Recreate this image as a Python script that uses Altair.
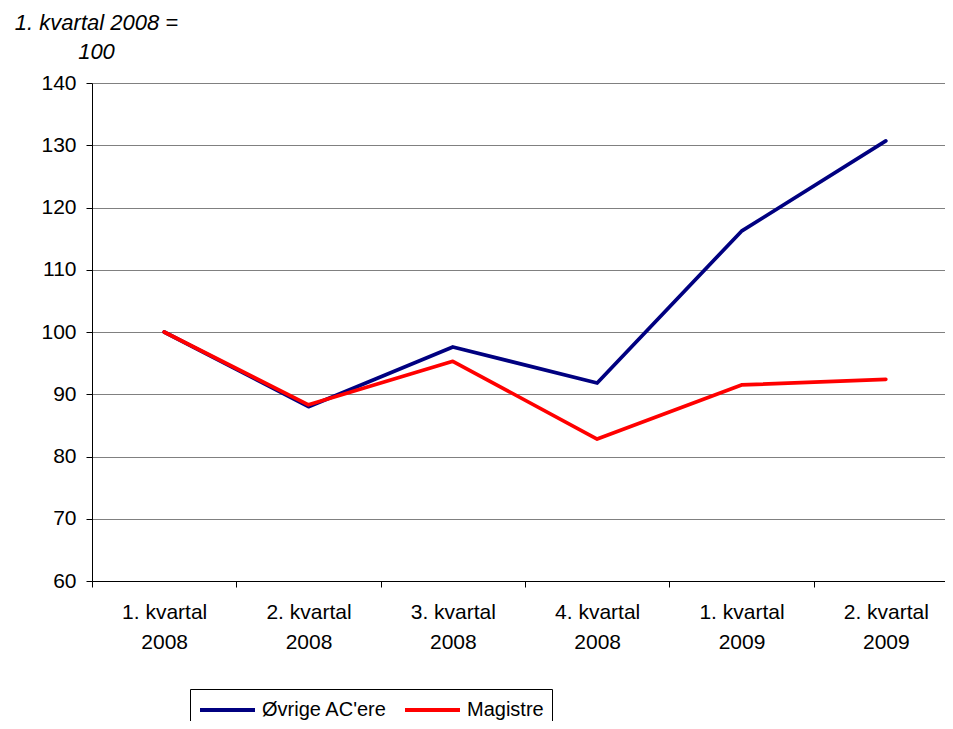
import altair as alt
import pandas as pd

categories = ["1. kvartal 2008", "2. kvartal 2008", "3. kvartal 2008",
              "4. kvartal 2008", "1. kvartal 2009", "2. kvartal 2009"]
series_names = ["Øvrige AC'ere", "Magistre"]
ovrige = [100.0, 88.0, 97.6, 91.8, 116.2, 130.7]
magistre = [100.0, 88.3, 95.3, 82.8, 91.5, 92.4]
y_ticks = [60, 70, 80, 90, 100, 110, 120, 130, 140]
y_title = ["1. kvartal 2008 =", "100"]

rows = []
for name, vals in zip(series_names, [ovrige, magistre]):
    for i, (c, v) in enumerate(zip(categories, vals)):
        rows.append({"kvartal": c, "serie": name, "indeks": v, "ordre": i})
df = pd.DataFrame(rows)

FONT = "Liberation Sans"

chart = alt.Chart(df).mark_line(strokeWidth=3.7, strokeCap="round", strokeJoin="round").encode(
    x=alt.X("kvartal:N", sort=categories, bandPosition=0.5,
            scale=alt.Scale(type="band", paddingInner=0, paddingOuter=0),
            axis=alt.Axis(title=None, labelAngle=0, grid=False, tickBand="extent",
                          labelExpr="[slice(datum.label, 0, 10), slice(datum.label, 11)]",
                          labelLineHeight=30, labelPadding=14, labelFontSize=21,
                          labelFont=FONT, labelColor="black", domainColor="black",
                          tickColor="black", tickSize=6, labelBaseline="top")),
    y=alt.Y("indeks:Q", scale=alt.Scale(domain=[60, 140], nice=False, zero=False),
            axis=alt.Axis(values=y_ticks, title=y_title, titleAngle=0, titleAlign="center",
                          titleBaseline="alphabetic", titleX=4, titleY=-54,
                          titleFont=FONT, titleFontSize=22, titleFontStyle="italic",
                          titleFontWeight="normal", titleColor="black", titleLineHeight=29,
                          labelFont=FONT, labelFontSize=21, labelColor="black",
                          labelPadding=10, tickSize=6, tickColor="black",
                          domainColor="black", grid=True, gridColor="#808080",
                          gridWidth=1)),
    color=alt.Color("serie:N", sort=series_names,
                    scale=alt.Scale(domain=series_names, range=["#000080", "#FF0000"]),
                    legend=alt.Legend(title=None, orient="none", legendX=98, legendY=606,
                                      direction="horizontal", symbolType="M-1,0H4",
                                      symbolSize=484, symbolStrokeWidth=4,
                                      labelFont=FONT, labelFontSize=20, labelColor="black",
                                      labelOffset=38, columnPadding=10, padding=8,
                                      strokeColor="black", fillColor="white")),
    order=alt.Order("ordre:Q"),
).properties(
    width=866, height=498,
    autosize=alt.AutoSizeParams(type="none"),
    padding={"left": 84, "top": 75, "right": -13, "bottom": 140},
    background="white",
).configure_view(stroke=None)

chart.save("out.html", embed_options={"renderer": "svg", "actions": False})
